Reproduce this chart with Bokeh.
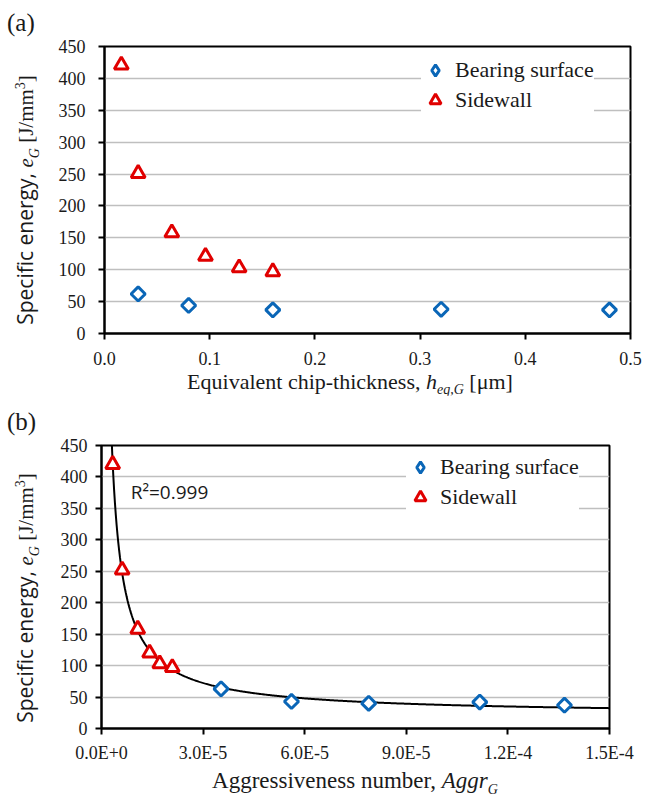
import numpy as np
from bokeh.plotting import figure
from bokeh.models import (Label, Legend, LegendItem, FixedTicker,
                          CustomJSTickFormatter, Range1d, Div)
from bokeh.layouts import column, row
from bokeh.embed import file_html
from bokeh.resources import INLINE

# ---------------- data ----------------
# panel (a): specific energy vs equivalent chip thickness
heq_bearing = [0.032, 0.080, 0.160, 0.320, 0.480]
eg_bearing_a = [62, 44, 37, 38, 37]
heq_sidewall = [0.016, 0.032, 0.064, 0.096, 0.128, 0.160]
eg_sidewall_a = [421, 251, 158, 121, 103, 97]

# panel (b): specific energy vs aggressiveness number
aggr_bearing = [3.53e-5, 5.61e-5, 7.89e-5, 1.117e-4, 1.367e-4]
eg_bearing_b = [63, 43, 40, 42, 37]
aggr_sidewall = [3.3e-6, 6.1e-6, 1.07e-5, 1.42e-5, 1.72e-5, 2.09e-5]
eg_sidewall_b = [420, 252, 158, 120, 103, 97]

y_ticks = [0, 50, 100, 150, 200, 250, 300, 350, 400, 450]
xa_ticks = [0.0, 0.1, 0.2, 0.3, 0.4, 0.5]
xa_tick_labels = ["0.0", "0.1", "0.2", "0.3", "0.4", "0.5"]
xb_ticks = [0.0, 3e-5, 6e-5, 9e-5, 1.2e-4, 1.5e-4]
xb_tick_labels = ["0.0E+0", "3.0E-5", "6.0E-5", "9.0E-5", "1.2E-4", "1.5E-4"]

series_names = ["Bearing surface", "Sidewall"]
r2_text = "R\u00b2=0.999"
panel_tags = ["(a)", "(b)"]
ylabel_html = ("<span style=\"font-family:'Open Sans';font-size:21px\">Specific energy, </span>"
               "<i>e</i><sub style=\"font-size:14px;font-style:italic\">G</sub>"
               " [J/mm<sup style=\"font-size:14px\">3</sup>]")
xa_label_html = ("Equivalent chip-thickness, <i>h</i>"
                 "<sub style=\"font-size:14px;font-style:italic\">eq,G</sub> [\u03bcm]")
xb_label_html = ("Aggressiveness number, <i>Aggr</i>"
                 "<sub style=\"font-size:14px;font-style:italic\">G</sub>")

# ---------------- styles ----------------
BLUE = "#0a66b7"
RED = "#e00000"
GRID = "#bfbfbf"
SERIF = "Liberation Serif"
SANS = "Open Sans"
TXT = "#1a1a1a"
LEFT_W = 52
FIG_W = 592
NAN = float("nan")


def style(p, xticks, xformatter, ystand, xstand):
    p.xgrid.visible = False
    p.ygrid.ticker = FixedTicker(ticks=y_ticks)
    p.ygrid.grid_line_color = GRID
    p.ygrid.grid_line_width = 1.5
    p.outline_line_color = "black"
    p.outline_line_width = 2
    p.outline_line_alpha = 1
    for ax in (p.xaxis[0], p.yaxis[0]):
        ax.axis_line_color = "black"
        ax.axis_line_width = 2
        ax.major_tick_line_color = "black"
        ax.major_tick_line_width = 2
        ax.major_tick_out = 6
        ax.major_tick_in = 0
        ax.minor_tick_line_color = None
        ax.major_label_text_font = SERIF
        ax.major_label_text_font_size = "18px"
        ax.major_label_text_color = TXT
        ax.axis_label = None
    p.yaxis[0].ticker = FixedTicker(ticks=y_ticks)
    p.yaxis[0].major_label_standoff = ystand
    p.xaxis[0].ticker = FixedTicker(ticks=xticks)
    p.xaxis[0].formatter = xformatter
    p.xaxis[0].major_label_standoff = xstand
    p.background_fill_color = "white"
    p.border_fill_color = "white"


def add_legend(p, r_s, vx, vy):
    # legend proxy (one non-drawn row) so that the legend shows a diamond
    lr_b = p.scatter([NAN], [NAN], marker="diamond", line_color=BLUE, line_width=3,
                     fill_color="white")
    leg = Legend(items=[LegendItem(label=series_names[0], renderers=[lr_b]),
                        LegendItem(label=series_names[1], renderers=[r_s])],
                 location=(vx, vy))
    leg.label_text_font = SERIF
    leg.label_text_font_size = "22px"
    leg.label_text_color = TXT
    leg.glyph_width = 28
    leg.glyph_height = 28
    leg.label_height = 28
    leg.spacing = 2
    leg.padding = 8
    leg.margin = 0
    leg.label_standoff = 6
    leg.border_line_color = None
    leg.background_fill_color = "white"
    leg.background_fill_alpha = 1
    p.add_layout(leg, "center")


def points(p, xb, yb, xs, ys):
    p.scatter(xb, yb, marker="square", angle=np.pi / 4, size=10,
              line_color=BLUE, line_width=3, fill_color="white")
    return p.scatter(xs, ys, marker="triangle", size=14,
                     line_color=RED, line_width=3, fill_color="white")


def left_div(tag, tag_y, height, label_cy):
    html = (
        f"<div style=\"position:relative;width:{LEFT_W}px;height:{height}px;"
        f"font-family:'{SERIF}';color:{TXT};\">"
        f"<span style=\"position:absolute;left:7px;top:{tag_y}px;"
        f"transform:translateY(-50%);font-size:25px;line-height:1;white-space:nowrap;\">{tag}</span>"
        f"<span style=\"position:absolute;left:28px;top:{label_cy}px;"
        f"transform:translate(-50%,-50%) rotate(-90deg);font-size:21px;line-height:1;"
        f"white-space:nowrap;\">{ylabel_html}</span></div>")
    return Div(text=html, width=LEFT_W, height=height, margin=0)


def bottom_div(html_label, height, cx, cy, size):
    html = (
        f"<div style=\"position:relative;width:{FIG_W}px;height:{height}px;"
        f"font-family:'{SERIF}';color:{TXT};\">"
        f"<span style=\"position:absolute;left:{cx}px;top:{cy}px;"
        f"transform:translate(-50%,-50%);font-size:{size}px;line-height:1;"
        f"white-space:nowrap;\">{html_label}</span></div>")
    return Div(text=html, width=FIG_W, height=height, margin=0)


# ---------------- panel (a) ----------------
pa = figure(width=FIG_W, height=371, output_backend="svg", toolbar_location=None,
            x_range=Range1d(0, 0.5), y_range=Range1d(0, 450),
            min_border_left=104 - LEFT_W, min_border_right=FIG_W - 630 + LEFT_W,
            min_border_top=46, min_border_bottom=38, margin=0)
style(pa, xa_ticks, CustomJSTickFormatter(args=dict(labels=xa_tick_labels),
                                          code="return labels[index];"), 13, 12)
rs_a = points(pa, heq_bearing, eg_bearing_a, heq_sidewall, eg_sidewall_a)
add_legend(pa, rs_a, 317, 219)

# ---------------- panel (b) ----------------
pb = figure(width=FIG_W, height=370, output_backend="svg", toolbar_location=None,
            x_range=Range1d(0, 1.5e-4), y_range=Range1d(0, 450),
            min_border_left=101 - LEFT_W, min_border_right=FIG_W - 609 + LEFT_W,
            min_border_top=50, min_border_bottom=35, margin=0)
style(pb, xb_ticks, CustomJSTickFormatter(args=dict(labels=xb_tick_labels),
                                          code="return labels[index];"), 8, 8)

# fitted trend curve e = c + k * Aggr^b (least squares over both series)
fx = np.array(aggr_sidewall + aggr_bearing)
fy = np.array(eg_sidewall_b + eg_bearing_b, dtype=float)
best = None
for bexp in np.linspace(-2.5, -0.05, 500):
    A = np.column_stack([np.ones_like(fx), fx ** bexp])
    coef, *_ = np.linalg.lstsq(A, fy, rcond=None)
    sse = float(np.sum((A @ coef - fy) ** 2))
    if best is None or sse < best[0]:
        best = (sse, bexp, coef)
_, bexp, coef = best
cx = np.linspace(2.0e-6, 1.5e-4, 600)
cy = coef[0] + coef[1] * cx ** bexp
pb.line(cx, cy, line_color="black", line_width=2)

rs_b = points(pb, aggr_bearing, eg_bearing_b, aggr_sidewall, eg_sidewall_b)
add_legend(pb, rs_b, 305, 217)
pb.add_layout(Label(x=68, y=237, x_units="screen", y_units="screen", text=r2_text,
                    text_font=SANS, text_font_size="19px", text_color=TXT,
                    text_baseline="middle", text_align="center"))

# ---------------- layout ----------------
left_a = left_div(panel_tags[0], 22, 395, 199.5)
bot_a = bottom_div(xa_label_html, 24, 350 - LEFT_W, 13, 22)
left_b = left_div(panel_tags[1], 26, 398, 202.5)
bot_b = bottom_div(xb_label_html, 28, 355 - LEFT_W, 18, 23)

layout = column(row(left_a, column(pa, bot_a, spacing=0), spacing=0),
                row(left_b, column(pb, bot_b, spacing=0), spacing=0),
                spacing=0)
open("out.html", "w").write(file_html(layout, INLINE))
